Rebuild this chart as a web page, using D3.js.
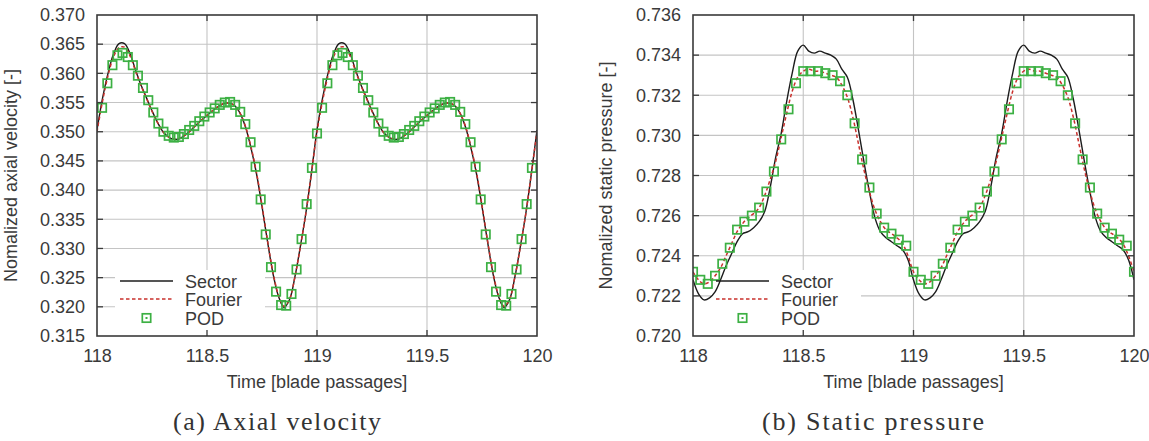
<!DOCTYPE html>
<html>
<head>
<meta charset="utf-8">
<script src="https://cdn.jsdelivr.net/npm/d3@7"></script>
<style>
body { margin: 0; background: #fff; }
svg { display: block; }
text { font-family: "Liberation Sans", Arial, sans-serif; }
</style>
</head>
<body>
<svg id="fig" width="1149" height="441"></svg>
<script>
/* time axis for the Sector and Fourier curves [blade passages] */
var timeFine = [118,118.025,118.05,118.075,118.1,118.125,118.15,118.175,118.2,118.225,118.25,118.275,118.3,118.325,118.35,118.375,118.4,118.425,118.45,118.475,118.5,118.525,118.55,118.575,118.6,118.625,118.65,118.675,118.7,118.725,118.75,118.775,118.8,118.825,118.85,118.875,118.9,118.925,118.95,118.975,
  119,119.025,119.05,119.075,119.1,119.125,119.15,119.175,119.2,119.225,119.25,119.275,119.3,119.325,119.35,119.375,119.4,119.425,119.45,119.475,119.5,119.525,119.55,119.575,119.6,119.625,119.65,119.675,119.7,119.725,119.75,119.775,119.8,119.825,119.85,119.875,119.9,119.925,119.95,119.975,120];

/* (a) axial velocity */
var sectorAxial = [0.3503,0.3557,0.3600,0.3633,0.3651,0.3651,0.3634,0.3606,0.3580,0.3558,0.3536,0.3516,0.3500,0.3491,0.3487,0.3488,0.3494,0.3502,0.3511,0.3520,0.3528,0.3536,0.3543,0.3548,0.3549,0.3545,0.3532,0.3508,0.3472,0.3428,0.3372,0.3312,0.3257,0.3218,0.3199,0.3212,0.3252,0.3305,0.3362,0.3430,
  0.3503,0.3557,0.3600,0.3633,0.3651,0.3651,0.3634,0.3606,0.3580,0.3558,0.3536,0.3516,0.3500,0.3491,0.3487,0.3488,0.3494,0.3502,0.3511,0.3520,0.3528,0.3536,0.3543,0.3548,0.3549,0.3545,0.3532,0.3508,0.3472,0.3428,0.3372,0.3312,0.3257,0.3218,0.3199,0.3212,0.3252,0.3305,0.3362,0.3430,0.3503];
var fourierAxial = [0.3500,0.3552,0.3596,0.3628,0.3644,0.3645,0.3630,0.3604,0.3579,0.3557,0.3535,0.3516,0.3500,0.3491,0.3488,0.3489,0.3494,0.3502,0.3511,0.3520,0.3528,0.3536,0.3543,0.3548,0.3549,0.3545,0.3532,0.3509,0.3474,0.3430,0.3374,0.3314,0.3259,0.3220,0.3201,0.3213,0.3252,0.3304,0.3362,0.3430,
  0.3500,0.3552,0.3596,0.3628,0.3644,0.3645,0.3630,0.3604,0.3579,0.3557,0.3535,0.3516,0.3500,0.3491,0.3488,0.3489,0.3494,0.3502,0.3511,0.3520,0.3528,0.3536,0.3543,0.3548,0.3549,0.3545,0.3532,0.3509,0.3474,0.3430,0.3374,0.3314,0.3259,0.3220,0.3201,0.3213,0.3252,0.3304,0.3362,0.3430,0.3500];
var podAxialTime = [118.023,118.047,118.070,118.093,118.116,118.140,118.163,118.186,118.209,118.233,118.256,118.279,118.302,118.326,118.349,118.372,118.395,118.419,118.442,118.465,118.488,118.512,118.535,118.558,118.581,118.605,118.628,118.651,118.674,118.698,118.721,118.744,118.767,118.791,118.814,118.837,118.860,118.884,118.907,118.930,118.953,118.977,119.000,
  119.023,119.047,119.070,119.093,119.116,119.140,119.163,119.186,119.209,119.233,119.256,119.279,119.302,119.326,119.349,119.372,119.395,119.419,119.442,119.465,119.488,119.512,119.535,119.558,119.581,119.605,119.628,119.651,119.674,119.698,119.721,119.744,119.767,119.791,119.814,119.837,119.860,119.884,119.907,119.930,119.953,119.977];
var podAxial = [0.3541,0.3583,0.3614,0.3631,0.3635,0.3628,0.3614,0.3596,0.3575,0.3554,0.3533,0.3514,0.3500,0.3493,0.3490,0.3491,0.3496,0.3503,0.3510,0.3518,0.3526,0.3533,0.3540,0.3546,0.3550,0.3551,0.3546,0.3534,0.3513,0.3482,0.3440,0.3384,0.3324,0.3268,0.3226,0.3203,0.3202,0.3222,0.3264,0.3316,0.3376,0.3438,0.3497,
  0.3541,0.3583,0.3614,0.3631,0.3635,0.3628,0.3614,0.3596,0.3575,0.3554,0.3533,0.3514,0.3500,0.3493,0.3490,0.3491,0.3496,0.3503,0.3510,0.3518,0.3526,0.3533,0.3540,0.3546,0.3550,0.3551,0.3546,0.3534,0.3513,0.3482,0.3440,0.3384,0.3324,0.3268,0.3226,0.3203,0.3202,0.3222,0.3264,0.3316,0.3376,0.3438];

/* (b) static pressure */
var sectorPressure = [0.7228,0.7221,0.7218,0.7219,0.7222,0.7228,0.7235,0.7241,0.7247,0.7251,0.7252,0.7254,0.7257,0.7262,0.7274,0.7289,0.7301,0.7317,0.7331,0.7342,0.7345,0.7342,0.7341,0.7342,0.7341,0.7340,0.7338,0.7333,0.7329,0.7318,0.7303,0.7287,0.7272,0.7259,0.7252,0.7249,0.7247,0.7245,0.7243,0.7238,
  0.7228,0.7221,0.7218,0.7219,0.7222,0.7228,0.7235,0.7241,0.7247,0.7251,0.7252,0.7254,0.7257,0.7262,0.7274,0.7289,0.7301,0.7317,0.7331,0.7342,0.7345,0.7342,0.7341,0.7342,0.7341,0.7340,0.7338,0.7333,0.7329,0.7318,0.7303,0.7287,0.7272,0.7259,0.7252,0.7249,0.7247,0.7245,0.7243,0.7238,0.7228];
var fourierPressure = [0.7232,0.7228,0.7226,0.7227,0.7230,0.7234,0.7240,0.7246,0.7252,0.7256,0.7259,0.7261,0.7264,0.7270,0.7278,0.7287,0.7299,0.7311,0.7322,0.7329,0.7332,0.7333,0.7332,0.7332,0.7331,0.7330,0.7329,0.7325,0.7319,0.7309,0.7296,0.7283,0.7272,0.7263,0.7257,0.7253,0.7251,0.7249,0.7246,0.7240,
  0.7232,0.7228,0.7226,0.7227,0.7230,0.7234,0.7240,0.7246,0.7252,0.7256,0.7259,0.7261,0.7264,0.7270,0.7278,0.7287,0.7299,0.7311,0.7322,0.7329,0.7332,0.7333,0.7332,0.7332,0.7331,0.7330,0.7329,0.7325,0.7319,0.7309,0.7296,0.7283,0.7272,0.7263,0.7257,0.7253,0.7251,0.7249,0.7246,0.7240,0.7232];
var podPressureTime = [118.000,118.033,118.067,118.100,118.133,118.167,118.200,118.233,118.267,118.300,118.333,118.367,118.400,118.433,118.467,118.500,118.533,118.567,118.600,118.633,118.667,118.700,118.733,118.767,118.800,118.833,118.867,118.900,118.933,118.967,
  119.000,119.033,119.067,119.100,119.133,119.167,119.200,119.233,119.267,119.300,119.333,119.367,119.400,119.433,119.467,119.500,119.533,119.567,119.600,119.633,119.667,119.700,119.733,119.767,119.800,119.833,119.867,119.900,119.933,119.967,120.000];
var podPressure = [0.7232,0.7228,0.7226,0.7230,0.7236,0.7244,0.7253,0.7257,0.7260,0.7264,0.7272,0.7282,0.7298,0.7313,0.7326,0.7332,0.7332,0.7332,0.7331,0.7330,0.7327,0.7320,0.7306,0.7288,0.7274,0.7261,0.7254,0.7251,0.7248,0.7245,
  0.7232,0.7228,0.7226,0.7230,0.7236,0.7244,0.7253,0.7257,0.7260,0.7264,0.7272,0.7282,0.7298,0.7313,0.7326,0.7332,0.7332,0.7332,0.7331,0.7330,0.7327,0.7320,0.7306,0.7288,0.7274,0.7261,0.7254,0.7251,0.7248,0.7245,0.7232];

/* ticks */
var timeTicks = [118, 118.5, 119, 119.5, 120];
var axialTicks = [0.315,0.320,0.325,0.330,0.335,0.340,0.345,0.350,0.355,0.360,0.365,0.370];
var pressureTicks = [0.720,0.722,0.724,0.726,0.728,0.730,0.732,0.734,0.736];

var legendNames = ["Sector", "Fourier", "POD"];

var plot_top = 15;
var plot_bottom = 336;
var text_color = "#3a3a3a";
var font_size = 18;
var pod_size = 8.4;

var panels = [
  { id: "a", left: 97, right: 537, yTicks: axialTicks,
    sector: sectorAxial, fourier: fourierAxial, podTime: podAxialTime, pod: podAxial,
    ylabel: "Nomalized axial velocity [-]", ylabelX: 17, caption: "(a) Axial velocity", captionWidth: 208 },
  { id: "b", left: 693, right: 1134, yTicks: pressureTicks,
    sector: sectorPressure, fourier: fourierPressure, podTime: podPressureTime, pod: podPressure,
    ylabel: "Nomalized static pressure [-]", ylabelX: 612, caption: "(b) Static pressure", captionWidth: 222 }
];

function zip(xs, ys) {
  return xs.map(function (t, i) { return [t, ys[i]]; });
}

function draw_panel(p) {
  var svg = d3.select("#fig");
  var g = svg.append("g").attr("class", "panel-" + p.id);
  var x = d3.scaleLinear().domain([118, 120]).range([p.left, p.right]);
  var y = d3.scaleLinear().domain([p.yTicks[0], p.yTicks[p.yTicks.length - 1]]).range([plot_bottom, plot_top]);

  /* grid */
  var grid = g.append("g").attr("stroke", "#c4c4c4").attr("stroke-width", 1.1);
  grid.selectAll("line.h").data(p.yTicks.slice(1, -1)).join("line").attr("class", "h")
    .attr("x1", p.left).attr("x2", p.right).attr("y1", y).attr("y2", y);
  grid.selectAll("line.v").data(timeTicks.slice(1, -1)).join("line").attr("class", "v")
    .attr("y1", plot_top).attr("y2", plot_bottom).attr("x1", x).attr("x2", x);

  /* key background hides the grid behind it */
  g.append("rect").attr("x", p.left + 18).attr("y", 270)
    .attr("width", 150).attr("height", 65).attr("fill", "#fff");

  var clipId = "clip-" + p.id;
  svg.append("clipPath").attr("id", clipId).append("rect")
    .attr("x", p.left).attr("y", plot_top).attr("width", p.right - p.left).attr("height", plot_bottom - plot_top);
  var curves = g.append("g").attr("clip-path", "url(#" + clipId + ")");

  var line = d3.line().x(function (d) { return x(d[0]); }).y(function (d) { return y(d[1]); })
    .curve(d3.curveCatmullRom.alpha(0.5));

  curves.append("path").datum(zip(timeFine, p.sector)).attr("d", line)
    .attr("fill", "none").attr("stroke", "#1c1c1c").attr("stroke-width", 1.4);
  curves.append("path").datum(zip(timeFine, p.fourier)).attr("d", line)
    .attr("fill", "none").attr("stroke", "#c9302c").attr("stroke-width", 1.5).attr("stroke-dasharray", "3.5,2.5");
  curves.selectAll("rect.pod").data(zip(p.podTime, p.pod)).join("rect").attr("class", "pod")
    .attr("x", function (d) { return x(d[0]) - pod_size / 2; })
    .attr("y", function (d) { return y(d[1]) - pod_size / 2; })
    .attr("width", pod_size).attr("height", pod_size)
    .attr("fill", "none").attr("stroke", "#3cb043").attr("stroke-width", 1.7);

  /* frame and inward ticks */
  g.append("rect").attr("x", p.left).attr("y", plot_top)
    .attr("width", p.right - p.left).attr("height", plot_bottom - plot_top)
    .attr("fill", "none").attr("stroke", "#3a3a3a").attr("stroke-width", 1.6);
  var ticks = g.append("g").attr("stroke", "#3a3a3a").attr("stroke-width", 1.3);
  p.yTicks.slice(1, -1).forEach(function (v) {
    ticks.append("line").attr("x1", p.left).attr("x2", p.left + 6).attr("y1", y(v)).attr("y2", y(v));
    ticks.append("line").attr("x1", p.right - 6).attr("x2", p.right).attr("y1", y(v)).attr("y2", y(v));
  });
  timeTicks.slice(1, -1).forEach(function (t) {
    ticks.append("line").attr("x1", x(t)).attr("x2", x(t)).attr("y1", plot_bottom).attr("y2", plot_bottom - 6);
    ticks.append("line").attr("x1", x(t)).attr("x2", x(t)).attr("y1", plot_top).attr("y2", plot_top + 6);
  });

  /* tick labels */
  var yAxis = g.append("g").attr("transform", "translate(" + p.left + ",0)")
    .call(d3.axisLeft(y).tickValues(p.yTicks).tickFormat(d3.format(".3f")).tickSize(0).tickPadding(12));
  var xAxis = g.append("g").attr("transform", "translate(0," + plot_bottom + ")")
    .call(d3.axisBottom(x).tickValues(timeTicks).tickFormat(function (d) { return String(d); }).tickSize(0).tickPadding(13));
  [yAxis, xAxis].forEach(function (a) {
    a.select(".domain").remove();
    a.selectAll("text").attr("fill", text_color).style("font-size", font_size + "px")
      .style("font-family", "'Liberation Sans', Arial, sans-serif");
  });

  /* axis titles */
  g.append("text").attr("x", (p.left + p.right) / 2).attr("y", 388)
    .attr("text-anchor", "middle").attr("fill", text_color).style("font-size", font_size + "px")
    .text("Time [blade passages]");
  g.append("text").attr("transform", "translate(" + p.ylabelX + "," + ((plot_top + plot_bottom) / 2) + ") rotate(-90)")
    .attr("text-anchor", "middle").attr("fill", text_color).style("font-size", font_size + "px")
    .text(p.ylabel);

  /* key */
  var key = g.append("g");
  var kx0 = p.left + 23, kx1 = p.left + 76, rows = [281, 299, 318];
  key.append("line").attr("x1", kx0).attr("x2", kx1).attr("y1", rows[0]).attr("y2", rows[0])
    .attr("stroke", "#1c1c1c").attr("stroke-width", 1.4);
  key.append("line").attr("x1", kx0).attr("x2", kx1).attr("y1", rows[1]).attr("y2", rows[1])
    .attr("stroke", "#c9302c").attr("stroke-width", 1.5).attr("stroke-dasharray", "3.5,2.5");
  var mx = (kx0 + kx1) / 2;
  key.append("rect").attr("x", mx - pod_size / 2).attr("y", rows[2] - pod_size / 2)
    .attr("width", pod_size).attr("height", pod_size)
    .attr("fill", "none").attr("stroke", "#3cb043").attr("stroke-width", 1.7);
  key.append("rect").attr("x", mx - 1).attr("y", rows[2] - 1).attr("width", 2).attr("height", 2)
    .attr("fill", "#3cb043");
  key.selectAll("text").data(legendNames).join("text")
    .attr("x", p.left + 88).attr("y", function (d, i) { return rows[i] + 6.5; })
    .attr("fill", text_color).style("font-size", font_size + "px").text(function (d) { return d; });

  /* sub caption */
  svg.append("text").attr("x", p.left + 180).attr("y", 430).attr("text-anchor", "middle")
    .attr("fill", "#333").style("font-family", "'Liberation Serif', 'DejaVu Serif', serif")
    .style("font-size", "26px").attr("textLength", p.captionWidth).attr("lengthAdjust", "spacing")
    .text(p.caption);
}

panels.forEach(draw_panel);
</script>
</body>
</html>
